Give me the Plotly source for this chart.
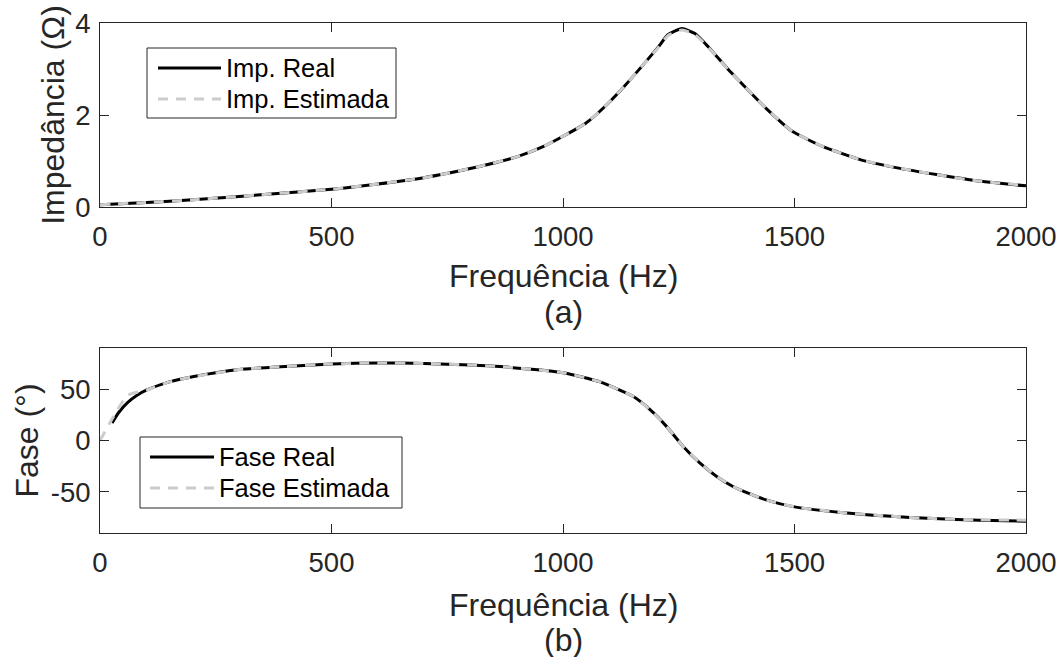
import plotly.graph_objects as go

# ---------------- data ----------------
imp_freq = [0, 100, 200, 340, 500, 600, 690, 734, 817, 900, 957, 1006, 1049, 1090,
            1132, 1173, 1206, 1226, 1257, 1285, 1314, 1355, 1396, 1438, 1496, 1562,
            1645, 1728, 1810, 1892, 2000]
imp_real = [0.05, 0.10, 0.155, 0.26, 0.385, 0.50, 0.62, 0.70, 0.876, 1.09, 1.31, 1.57,
            1.82, 2.18, 2.62, 3.09, 3.48, 3.74, 3.88, 3.77, 3.48, 3.01, 2.58, 2.15,
            1.64, 1.31, 1.02, 0.84, 0.70, 0.57, 0.46]
imp_est = [0.05, 0.10, 0.155, 0.26, 0.385, 0.50, 0.62, 0.70, 0.876, 1.09, 1.31, 1.57,
           1.82, 2.18, 2.62, 3.09, 3.47, 3.72, 3.85, 3.75, 3.47, 3.01, 2.58, 2.15,
           1.64, 1.31, 1.02, 0.84, 0.70, 0.57, 0.47]

ph_freq_real = [26, 40, 60, 80, 100, 150, 200, 300, 400, 500, 600, 700, 800, 864, 1000,
                1080, 1151, 1188, 1224, 1260, 1296, 1332, 1368, 1404, 1440, 1500, 1600,
                1700, 1800, 1900, 2000]
ph_real = [17, 27, 37, 44, 49, 57, 62, 69, 72, 74.5, 75.5, 75, 73.5, 72, 66, 57, 43, 30,
           13.5, -6, -22, -35, -45, -52, -58, -64.6, -70, -73.5, -76, -77.5, -78.5]
ph_freq_est = [0, 60, 100, 150, 200, 300, 400, 500, 600, 700, 800, 864, 1000, 1080, 1151,
               1188, 1224, 1260, 1296, 1332, 1368, 1404, 1440, 1500, 1600, 1700, 1800,
               1900, 2000]
ph_est = [0, 44, 49, 57, 62, 69, 72, 74.5, 75.5, 75, 73.5, 72, 66, 57, 43, 30, 13.5, -6,
          -22, -35, -45, -52, -58, -64.6, -70, -73.5, -76, -77.2, -77.5]

x_ticks = [0, 500, 1000, 1500, 2000]
x_tick_text = ["0", "500", "1000", "1500", "2000"]
imp_ticks = [0, 2, 4]
imp_tick_text = ["0", "2", "4"]
ph_ticks = [-50, 0, 50]
ph_tick_text = ["-50", "0", "50"]

x_title = "Frequência (Hz)"
leg_top = ["Imp. Real", "Imp. Estimada"]
leg_bot = ["Fase Real", "Fase Estimada"]

# ---------------- style ----------------
W, H = 1061, 657
ML, MR, MT, MB = 100, 35, 23, 124
PW, PH = W - ML - MR, H - MT - MB
TXT = "#262626"
FONT = "Liberation Sans, Arial, sans-serif"
GRAY = "#cccccc"
DASH = "10px,8px"


def px(x):
    return (x - ML) / PW


def py(y):
    return (H - MB - y) / PH


fig = go.Figure()
fig.add_trace(go.Scatter(x=imp_freq, y=imp_real, mode="lines", name=leg_top[0],
                         line=dict(color="black", width=3, shape="spline", smoothing=0.5),
                         xaxis="x", yaxis="y", showlegend=False))
fig.add_trace(go.Scatter(x=imp_freq, y=imp_est, mode="lines", name=leg_top[1],
                         line=dict(color=GRAY, width=3, dash=DASH, shape="spline", smoothing=0.5),
                         xaxis="x", yaxis="y", showlegend=False))
fig.add_trace(go.Scatter(x=ph_freq_real, y=ph_real, mode="lines", name=leg_bot[0],
                         line=dict(color="black", width=3, shape="spline", smoothing=0.5),
                         xaxis="x2", yaxis="y2", showlegend=False))
fig.add_trace(go.Scatter(x=ph_freq_est, y=ph_est, mode="lines", name=leg_bot[1],
                         line=dict(color=GRAY, width=3, dash=DASH, shape="spline", smoothing=0.5),
                         xaxis="x2", yaxis="y2", showlegend=False))

axis_common = dict(showline=True, linecolor=TXT, linewidth=1, mirror="ticks",
                   ticks="inside", ticklen=9, tickwidth=1, tickcolor=TXT,
                   showgrid=False, zeroline=False, tickmode="array", automargin=False,
                   tickfont=dict(family=FONT, size=27.5, color=TXT))
title_font = dict(family=FONT, size=32, color=TXT)

top_dom = [py(207), py(23)]
bot_dom = [py(533), py(348)]

fig.update_layout(
    width=W, height=H,
    margin=dict(l=ML, r=MR, t=MT, b=MB),
    paper_bgcolor="white", plot_bgcolor="white",
    font=dict(family=FONT, color=TXT),
    xaxis=dict(axis_common, domain=[0, 1], anchor="y", range=[0, 2000],
               tickvals=x_ticks, ticktext=x_tick_text, ticklabelstandoff=5),
    yaxis=dict(axis_common, domain=top_dom, anchor="x", range=[0, 4],
               tickvals=imp_ticks, ticktext=imp_tick_text, ticklabelstandoff=3,
               title=dict(text="Impedância (Ω)", font=title_font, standoff=1)),
    xaxis2=dict(axis_common, domain=[0, 1], anchor="y2", range=[0, 2000],
                tickvals=x_ticks, ticktext=x_tick_text, ticklabelstandoff=5),
    yaxis2=dict(axis_common, domain=bot_dom, anchor="x2", range=[-90, 90],
                tickvals=ph_ticks, ticktext=ph_tick_text, ticklabelstandoff=3,
                title=dict(text="Fase (°)", font=title_font, standoff=2)),
)

# x-axis titles and sub-figure labels
for txt, yc in ((x_title, 276), ("(a)", 312), (x_title, 605), ("(b)", 640)):
    fig.add_annotation(text=txt, xref="paper", yref="paper", x=px(563), y=py(yc),
                       showarrow=False, font=title_font, xanchor="center", yanchor="middle")

# custom MATLAB-like legends
def legend_box(x0, y0, x1, y1, l0, l1, ly0, ly1, tx, labels):
    fig.add_shape(type="rect", xref="paper", yref="paper",
                  x0=px(x0), x1=px(x1), y0=py(y1), y1=py(y0),
                  line=dict(color=TXT, width=1), fillcolor="white", layer="above")
    fig.add_shape(type="line", xref="paper", yref="paper",
                  x0=px(l0), x1=px(l1), y0=py(ly0), y1=py(ly0),
                  line=dict(color="black", width=3), layer="above")
    fig.add_shape(type="line", xref="paper", yref="paper",
                  x0=px(l0), x1=px(l1), y0=py(ly1), y1=py(ly1),
                  line=dict(color=GRAY, width=3, dash=DASH), layer="above")
    for lab, yy in zip(labels, (ly0, ly1)):
        fig.add_annotation(text=lab, xref="paper", yref="paper", x=px(tx), y=py(yy),
                           showarrow=False, xanchor="left", yanchor="middle",
                           font=dict(family=FONT, size=25.5, color="black"))

legend_box(147, 48, 396, 118, 158, 221, 68, 99, 224, leg_top)
legend_box(140, 437, 402, 508, 150, 214, 457, 488, 217, leg_bot)

fig.write_html("out.html")
